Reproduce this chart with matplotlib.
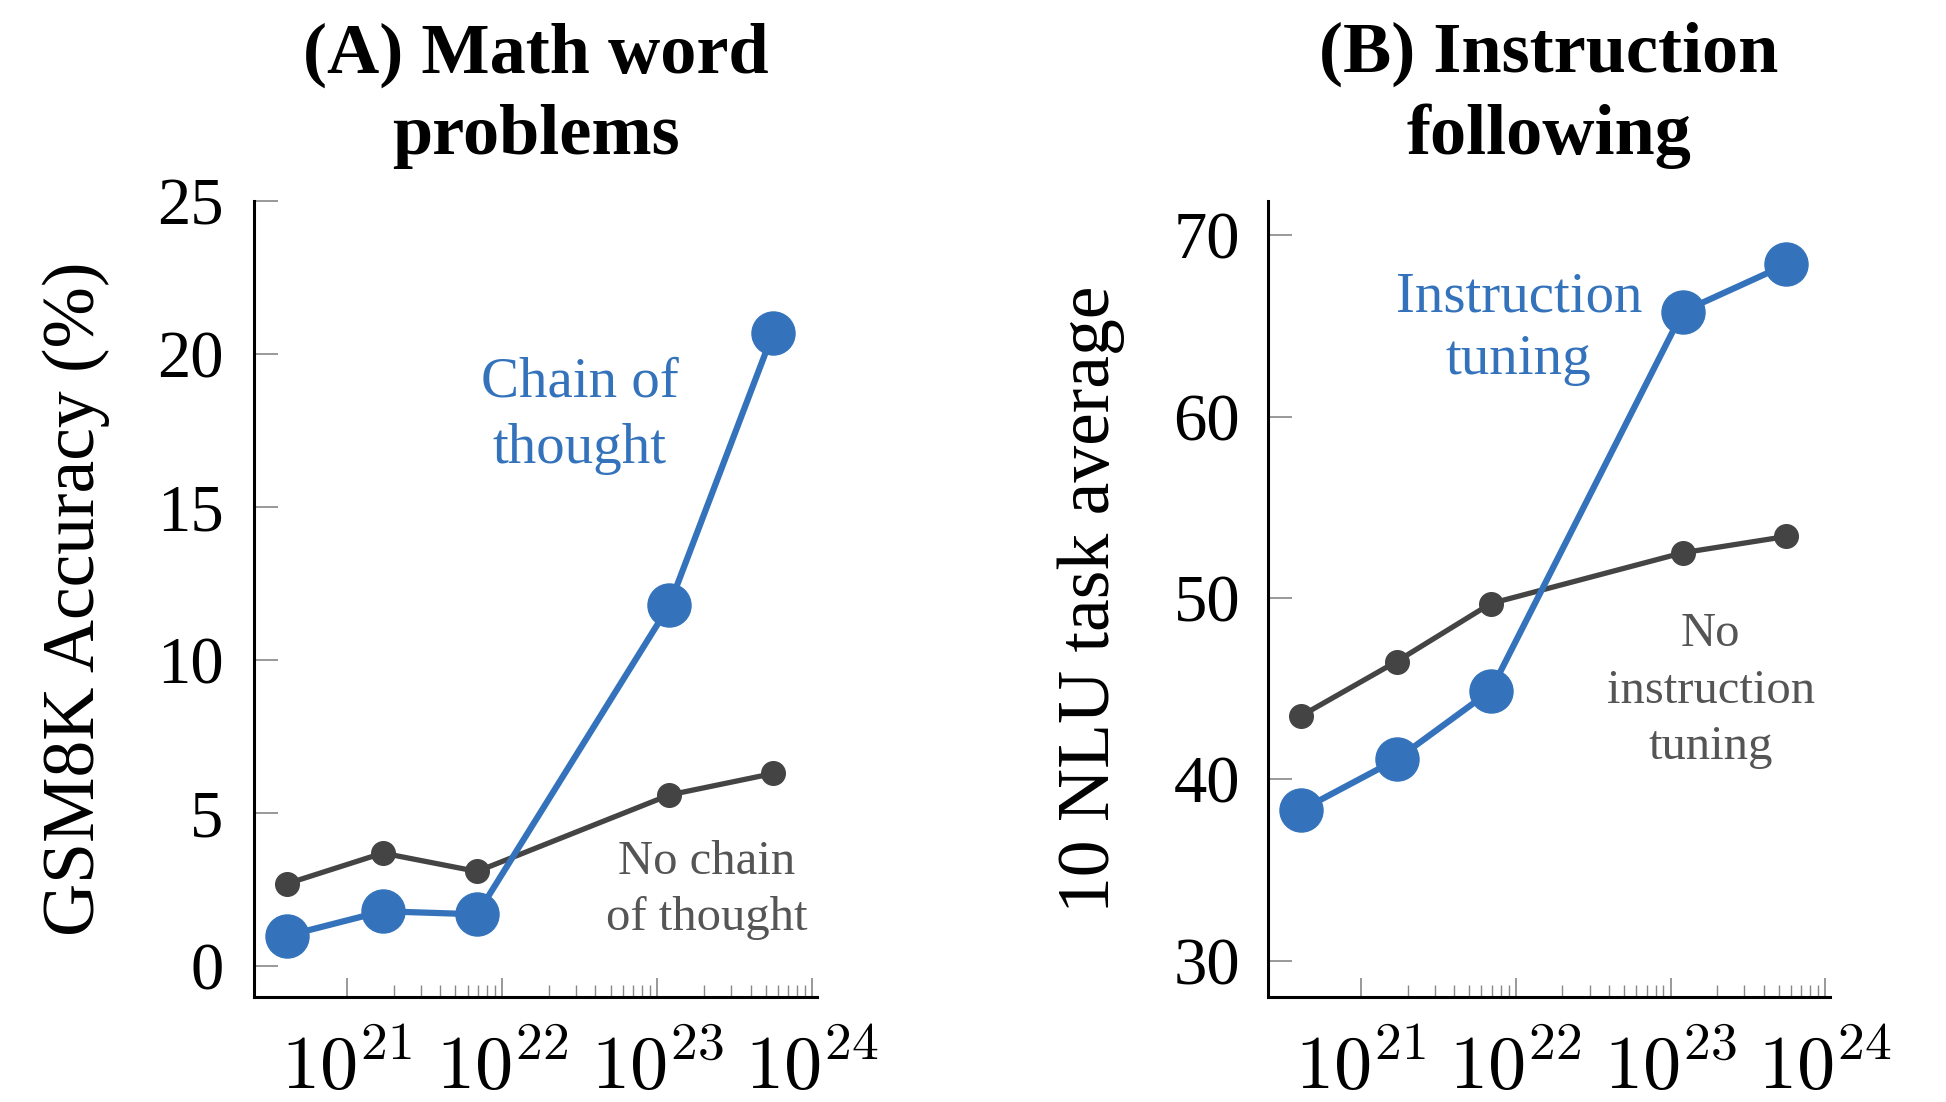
import numpy as np
import matplotlib
matplotlib.use("Agg")
import matplotlib.pyplot as plt
from matplotlib.ticker import FixedLocator, FuncFormatter, NullFormatter


# training FLOPs (shared by both panels)
flops = [4.1e20, 1.7e21, 6.9e21, 1.2e23, 5.6e23]

# (A) GSM8K
gsm8k_cot = [1.0, 1.8, 1.7, 11.8, 20.7]
gsm8k_no_cot = [2.7, 3.7, 3.1, 5.6, 6.3]

# (B) 10 NLU tasks
nlu_it = [38.3, 41.1, 44.9, 65.8, 68.4]
nlu_no_it = [43.5, 46.5, 49.7, 52.5, 53.4]

major_x = [1e21, 1e22, 1e23, 1e24]

AZUL = "#3473bb"
CINZA = "#444444"
CINZA_TXT = "#555555"

plt.rcParams["font.family"] = ["Liberation Serif", "DejaVu Serif"]
plt.rcParams["mathtext.fontset"] = "cm"


def minor_ticks():
    # log minor ticks 2..9, only from 10^21 on
    ticks = []
    for d in range(21, 24):
        for s in range(2, 10):
            ticks.append(s * 10.0 ** d)
    return ticks


def desenhar(ax, y_blue, y_grey, ylim, yticks, title, ylabel, tick_pad):
    ax.plot(flops, y_grey, "-o", color=CINZA, lw=3.8, ms=17, zorder=2)
    ax.plot(flops, y_blue, "-o", color=AZUL, lw=4.5, ms=31, zorder=3)

    ax.set_xscale("log")
    ax.set_xlim(10 ** 20.4, 10 ** 24.03)
    ax.set_ylim(*ylim)
    ax.set_yticks(yticks)

    ax.xaxis.set_major_locator(FixedLocator(major_x))
    ax.xaxis.set_minor_locator(FixedLocator(minor_ticks()))
    ax.xaxis.set_major_formatter(FuncFormatter(lambda v, p: r"$10^{%d}$" % round(np.log10(v))))
    ax.xaxis.set_minor_formatter(NullFormatter())

    for s in ["top", "right"]:
        ax.spines[s].set_visible(False)
    for s in ["left", "bottom"]:
        ax.spines[s].set_linewidth(2.2)

    ax.tick_params(axis="y", direction="in", length=17, width=1.2, color="#888888",
                   labelsize=48, pad=tick_pad)
    ax.tick_params(axis="x", which="major", direction="in", length=14, width=1.2,
                   color="#888888", labelsize=55, pad=27)
    ax.tick_params(axis="x", which="minor", direction="in", length=9, width=1.0,
                   color="#888888")

    ax.set_title(title, fontsize=52, fontweight="bold", linespacing=1.32, pad=34)
    ax.set_ylabel(ylabel, fontsize=53)
    ax.yaxis.set_label_coords(-0.255, 0.5)


fig = plt.figure(figsize=(19.46, 11.02), dpi=100)
ax1 = fig.add_axes([0.1305, 0.0953, 0.2893, 0.7223])
ax2 = fig.add_axes([0.6516, 0.0953, 0.2888, 0.7223])

desenhar(ax1, gsm8k_cot, gsm8k_no_cot, (-1, 25), [0, 5, 10, 15, 20, 25],
         "(A) Math word\nproblems", "GSM8K Accuracy (%)", 22)
ax1.text(10 ** 22.5, 18.0, "Chain of\nthought", color=AZUL, fontsize=41,
         ha="center", va="center", linespacing=1.36)
ax1.text(10 ** 23.32, 2.5, "No chain\nof thought", color=CINZA_TXT, fontsize=35,
         ha="center", va="center", linespacing=1.35)

desenhar(ax2, nlu_it, nlu_no_it, (28.0, 71.9), [30, 40, 50, 60, 70],
         "(B) Instruction\nfollowing", "10 NLU task average", 20)
ax2.text(10 ** 22.02, 64.85, "Instruction\ntuning", color=AZUL, fontsize=41,
         ha="center", va="center", linespacing=1.28)
ax2.text(10 ** 23.26, 44.9, "No\ninstruction\ntuning", color=CINZA_TXT, fontsize=35,
         ha="center", va="center", linespacing=1.36)

fig.savefig("out.png", dpi=100)
